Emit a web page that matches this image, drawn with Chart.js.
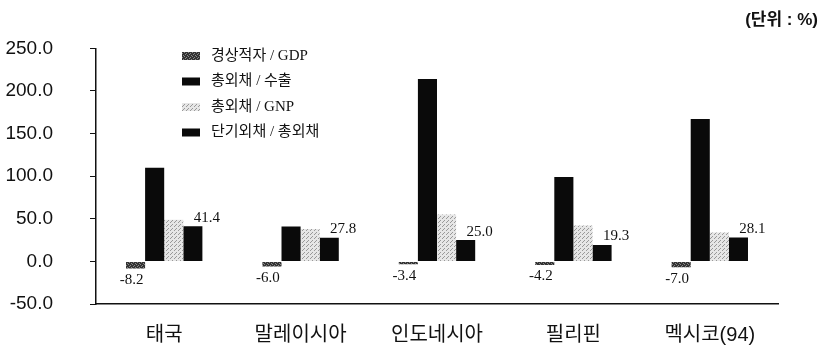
<!DOCTYPE html>
<html>
<head>
<meta charset="utf-8">
<script src="https://cdn.jsdelivr.net/npm/chart.js@4.4.1/dist/chart.umd.min.js"></script>
<style>
  html, body { margin: 0; padding: 0; background: #fff; }
  #wrap { width: 830px; height: 355px; position: relative; }
</style>
</head>
<body>
<div id="wrap"><canvas id="chart"></canvas></div>
<script>
const countries = ["태국", "말레이시아", "인도네시아", "필리핀", "멕시코(94)"];
const seriesNames = ["경상적자 / GDP", "총외채 / 수출", "총외채 / GNP", "단기외채 / 총외채"];
const currentAccountGdp = [-8.2, -6.0, -3.4, -4.2, -7.0];
const debtExports = [110, 41, 214, 99, 167];
const debtGnp = [49, 38, 55, 42, 34];
const shortTermDebt = [41.4, 27.8, 25.0, 19.3, 28.1];
const yTicks = [250, 200, 150, 100, 50, 0, -50];

const serifKo = "'Liberation Serif', 'Noto Sans CJK KR', serif";
const sansKo = "'Liberation Sans', 'Noto Sans CJK KR', sans-serif";

// small textures to mimic the scanned fills
function makePattern(bg, dot, cells) {
  const c = document.createElement("canvas");
  c.width = 4; c.height = 4;
  const g = c.getContext("2d");
  g.fillStyle = bg; g.fillRect(0, 0, 4, 4);
  g.fillStyle = dot;
  cells.forEach(([x, y]) => g.fillRect(x, y, 1, 1));
  return g.createPattern(c, "repeat");
}
const gdpFill = makePattern("#333", "#888", [[0, 0], [2, 1], [1, 2], [3, 3]]);
const gnpFill = makePattern("#e6e6e6", "#999", [[0, 0], [2, 2], [3, 1]]);
const fills = [gdpFill, "#0a0a0a", gnpFill, "#0a0a0a"];

const labelPlugin = {
  id: "valueLabels",
  afterDatasetsDraw(chart) {
    const ctx = chart.ctx;
    ctx.save();
    ctx.font = "15px " + serifKo;
    ctx.fillStyle = "#111";
    ctx.textAlign = "center";
    chart.getDatasetMeta(0).data.forEach((bar, i) => {
      ctx.textBaseline = "top";
      ctx.fillText(currentAccountGdp[i].toFixed(1), bar.x - 4, bar.y + 4);
    });
    chart.getDatasetMeta(3).data.forEach((bar, i) => {
      ctx.textBaseline = "bottom";
      ctx.fillText(shortTermDebt[i].toFixed(1), bar.x + 14, bar.y - 1);
    });
    ctx.restore();
  }
};

const legendPlugin = {
  id: "innerLegend",
  afterDraw(chart) {
    const ctx = chart.ctx;
    ctx.save();
    ctx.font = "15px " + serifKo;
    ctx.textBaseline = "middle";
    ctx.textAlign = "left";
    seriesNames.forEach((name, i) => {
      const y = 56 + i * 25.5;
      ctx.fillStyle = fills[i];
      ctx.fillRect(182, y - 4, 18, 8);
      ctx.fillStyle = "#111";
      ctx.fillText(name, 211, y);
    });
    // unit note
    ctx.font = "bold 17px " + sansKo;
    ctx.textAlign = "right";
    ctx.fillText("(단위 : %)", 818, 20);
    ctx.restore();
  }
};

new Chart(document.getElementById("chart"), {
  type: "bar",
  data: {
    labels: countries,
    datasets: [
      { label: seriesNames[0], data: currentAccountGdp, backgroundColor: gdpFill },
      { label: seriesNames[1], data: debtExports, backgroundColor: "#0a0a0a" },
      { label: seriesNames[2], data: debtGnp, backgroundColor: gnpFill },
      { label: seriesNames[3], data: shortTermDebt, backgroundColor: "#0a0a0a" }
    ]
  },
  options: {
    responsive: true,
    maintainAspectRatio: false,
    animation: false,
    layout: { padding: { top: 46, right: 52, left: 0, bottom: 0 } },
    datasets: {
      bar: { categoryPercentage: 0.56, barPercentage: 1.0, borderWidth: 0 }
    },
    plugins: {
      legend: { display: false },
      tooltip: { enabled: false }
    },
    scales: {
      x: {
        grid: { display: false, drawTicks: false },
        border: { display: true, color: "#111", width: 1.5 },
        ticks: {
          color: "#111",
          padding: 19,
          font: { family: sansKo, size: 20 }
        },
        afterFit(scale) { scale.height = 51; }
      },
      y: {
        min: -50,
        max: 250,
        afterBuildTicks(scale) { scale.ticks = yTicks.map(v => ({ value: v })); },
        grid: { drawOnChartArea: false, drawTicks: true, tickLength: 6, color: "#111" },
        border: { display: true, color: "#111", width: 1.5 },
        ticks: {
          color: "#111",
          padding: 37,
          font: { family: sansKo, size: 19 },
          callback: v => v.toFixed(1)
        },
        afterFit(scale) { scale.width = 96; }
      }
    }
  },
  plugins: [labelPlugin, legendPlugin]
});
</script>
</body>
</html>
